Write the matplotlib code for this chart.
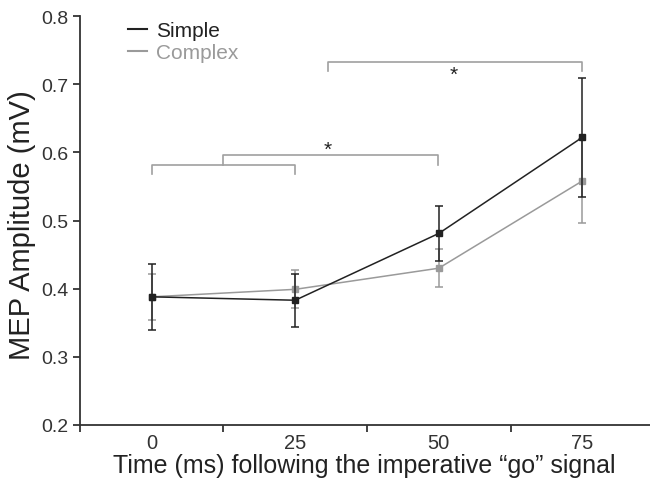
import matplotlib
matplotlib.use("Agg")
import matplotlib.pyplot as plt
from matplotlib.lines import Line2D

plt.rcParams['font.family'] = ['Liberation Sans', 'DejaVu Sans']

times = [0, 25, 50, 75]
simple_mean = [0.388, 0.383, 0.481, 0.622]
simple_err = [0.048, 0.039, 0.041, 0.087]
complex_mean = [0.388, 0.399, 0.430, 0.558]
complex_err = [0.034, 0.028, 0.028, 0.061]
tick_positions = [-12.5, 12.5, 37.5, 62.5]
label_positions = [0, 25, 50, 75]
tick_labels = ['0', '25', '50', '75']
y_ticks = [0.2, 0.3, 0.4, 0.5, 0.6, 0.7, 0.8]

fig = plt.figure(figsize=(6.5, 4.89), dpi=100)
ax = fig.add_axes([0.123, 0.129, 0.877, 0.836])

black = '#222222'
gray = '#9a9a9a'

ax.errorbar(times, complex_mean, yerr=complex_err, color=gray, marker='s', ms=4,
            lw=1.1, elinewidth=1.1, capsize=3, capthick=1.1, label='Complex', zorder=2)
ax.errorbar(times, simple_mean, yerr=simple_err, color=black, marker='s', ms=4,
            lw=1.1, elinewidth=1.1, capsize=3, capthick=1.1, label='Simple', zorder=3)

# significance brackets
bc = '#a0a0a0'
ax.plot([0, 0, 25, 25], [0.568, 0.582, 0.582, 0.568], color=bc, lw=1.2)
ax.plot([12.5, 12.5, 49.8, 49.8], [0.582, 0.596, 0.596, 0.582], color=bc, lw=1.2)
ax.text(30.7, 0.591, '*', ha='center', va='bottom', fontsize=15, color=black)
ax.plot([30.7, 30.7, 75, 75], [0.719, 0.732, 0.732, 0.719], color=bc, lw=1.2)
ax.text(52.6, 0.728, '*', ha='center', va='top', fontsize=15, color=black)

ax.set_xlim(-12.5, 86.8)
ax.set_ylim(0.2, 0.8)
ax.set_yticks(y_ticks)
ax.set_yticklabels(['%.1f' % v for v in y_ticks])
ax.set_xticks(tick_positions)
ax.set_xticklabels([])
for xp, lab in zip(label_positions, tick_labels):
    ax.text(xp, -0.044, lab, transform=ax.get_xaxis_transform(), ha='center', va='center',
            fontsize=14.5, color='#333333')

for s in ['top', 'right']:
    ax.spines[s].set_visible(False)
for s in ['left', 'bottom']:
    ax.spines[s].set_color('#333333')
    ax.spines[s].set_linewidth(1.3)
ax.tick_params(axis='both', colors='#333333', width=1.3, length=5, labelsize=14)

fig.text(364 / 650, 1 - 466 / 489, 'Time (ms) following the imperative \u201cgo\u201d signal',
         fontsize=18, color='#222222', ha='center', va='center')
fig.text(22 / 650, 1 - 225 / 489, 'MEP Amplitude (mV)', fontsize=21, color='#222222',
         ha='center', va='center', rotation=90)

h = [Line2D([], [], color=black, lw=1.5), Line2D([], [], color=gray, lw=1.5)]
leg = ax.legend(h, ['Simple', 'Complex'], loc='upper left', bbox_to_anchor=(0.084, 0.988),
                frameon=False, fontsize=15, handlelength=0.9, handletextpad=0.45,
                labelspacing=0.15, borderpad=0, borderaxespad=0)
for t, c in zip(leg.get_texts(), [black, gray]):
    t.set_color(c)

fig.savefig('out.png', dpi=100)
